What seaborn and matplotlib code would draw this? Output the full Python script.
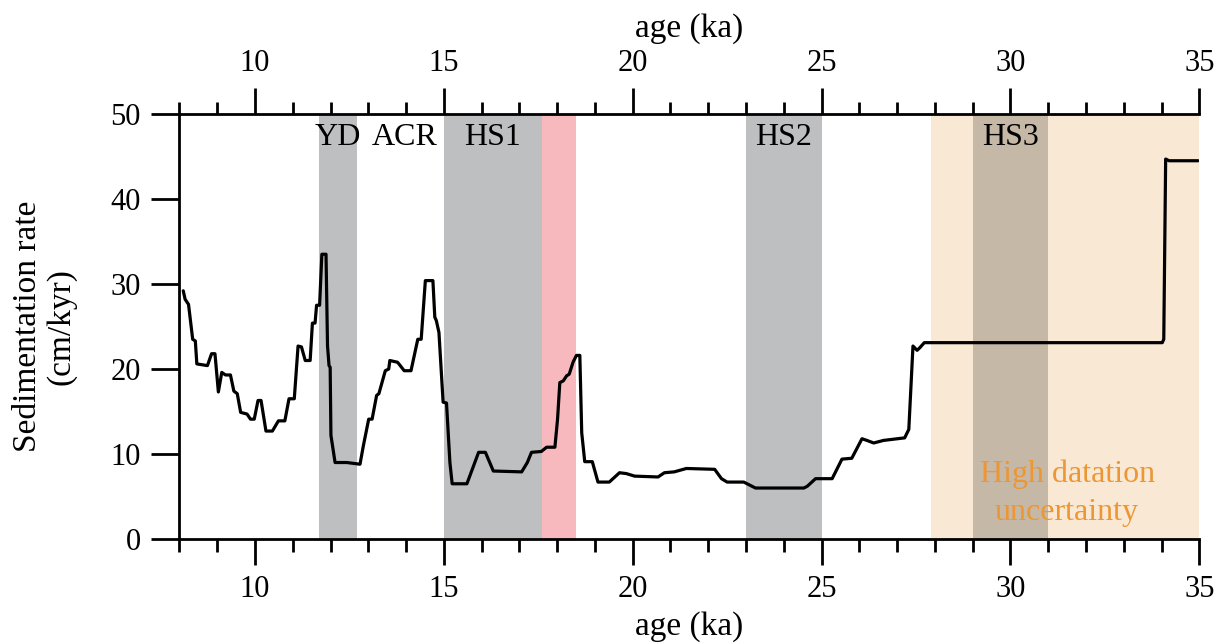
import matplotlib
matplotlib.use("Agg")
import matplotlib.pyplot as plt
import seaborn as sns
import pandas as pd

# Sedimentation-rate record (age in ka, rate in cm/kyr)
age = [8.10, 8.15, 8.24, 8.35, 8.42, 8.46, 8.74, 8.85, 8.94, 9.03, 9.12, 9.22,
       9.35, 9.44, 9.53, 9.62, 9.79, 9.88, 9.98, 10.08, 10.16, 10.29, 10.46,
       10.62, 10.79, 10.90, 11.04, 11.14, 11.23, 11.33, 11.46, 11.52, 11.59,
       11.63, 11.71, 11.77, 11.88, 11.92, 11.96, 11.99, 12.01, 12.12, 12.43,
       12.78, 12.87, 13.01, 13.10, 13.22, 13.28, 13.45, 13.54, 13.57, 13.77,
       13.81, 13.95, 14.13, 14.31, 14.40, 14.51, 14.71, 14.76, 14.80, 14.87,
       14.98, 15.07, 15.16, 15.22, 15.61, 15.92, 16.10, 16.31, 17.06, 17.21,
       17.32, 17.58, 17.72, 17.94, 18.01, 18.07, 18.16, 18.25, 18.32, 18.42,
       18.51, 18.60, 18.65, 18.73, 18.93, 19.08, 19.38, 19.65, 19.83, 20.05,
       20.67, 20.84, 21.10, 21.42, 22.17, 22.35, 22.50, 22.94, 23.25, 24.53,
       24.62, 24.84, 25.28, 25.54, 25.80, 26.07, 26.20, 26.38, 26.64, 27.20,
       27.31, 27.42, 27.53, 27.60, 27.72, 34.02, 34.06, 34.11, 34.20, 34.97]
rate = [29.2, 28.2, 27.6, 23.5, 23.3, 20.6, 20.4, 21.8, 21.8, 17.3, 19.6, 19.3,
        19.3, 17.4, 17.1, 14.9, 14.7, 14.1, 14.1, 16.3, 16.3, 12.7, 12.7,
        13.9, 13.9, 16.5, 16.5, 22.7, 22.6, 21.0, 21.0, 25.4, 25.4,
        27.5, 27.5, 33.5, 33.5, 22.7, 20.4, 20.2, 12.2, 9.0, 9.0,
        8.8, 11.0, 14.1, 14.1, 16.9, 17.1, 19.8, 20.0, 21.0, 20.8,
        20.6, 19.8, 19.8, 23.5, 23.5, 30.4, 30.4, 26.1, 25.7, 24.3,
        16.1, 16.0, 9.0, 6.5, 6.5, 10.2, 10.2, 8.0, 7.9, 9.0,
        10.2, 10.3, 10.8, 10.8, 14.1, 18.4, 18.6, 19.2, 19.4, 20.8,
        21.6, 21.6, 12.5, 9.1, 9.1, 6.7, 6.7, 7.8, 7.7, 7.4,
        7.3, 7.8, 7.9, 8.3, 8.2, 7.1, 6.7, 6.7, 6.0, 6.0,
        6.2, 7.1, 7.1, 9.4, 9.5, 11.8, 11.6, 11.3, 11.6, 11.9,
        12.9, 22.7, 22.2, 22.5, 23.1, 23.1, 23.5, 44.7, 44.5, 44.5]

# Climate events (start, end in ka)
event_names = ["YD", "HS1", "HS2", "HS3"]
event_start = [11.70, 15.0, 23.0, 29.0]
event_end = [12.70, 17.6, 25.0, 31.0]
acr_label_x = 13.95
pink_span = (17.6, 18.5)
uncertain_span = (27.9, 35.0)

x_ticks = [10, 15, 20, 25, 30, 35]
y_ticks = [0, 10, 20, 30, 40, 50]

sns.set_theme(style="white")
plt.rcParams["font.family"] = ["Liberation Serif", "DejaVu Serif"]
plt.rcParams["text.color"] = "black"
plt.rcParams["axes.labelcolor"] = "black"
plt.rcParams["xtick.color"] = "black"
plt.rcParams["ytick.color"] = "black"

fig = plt.figure(figsize=(12.25, 6.44), dpi=100)
ax = fig.add_axes([0.1465, 0.163, 0.8325, 0.66])

grey = "#BEBFC1"
ax.axvspan(*uncertain_span, color="#F9E8D4", lw=0, zorder=0)
for name, s, e in zip(event_names, event_start, event_end):
    col = "#C6B8A7" if name == "HS3" else grey
    ax.axvspan(s, e, color=col, lw=0, zorder=1)
ax.axvspan(*pink_span, color="#F8B9BE", lw=0, zorder=1)

df = pd.DataFrame({"age": age, "rate": rate})
sns.lineplot(data=df, x="age", y="rate", ax=ax, color="black", lw=2.3,
             estimator=None, sort=False, zorder=3)

label_fs = 23
label_y = 47.2
ax.text((event_start[0] + event_end[0]) / 2, label_y, "YD", ha="center",
        va="center", fontsize=label_fs)
ax.text(acr_label_x, label_y, "ACR", ha="center", va="center", fontsize=label_fs)
for name, s, e in zip(event_names[1:], event_start[1:], event_end[1:]):
    ax.text((s + e) / 2, label_y, name, ha="center", va="center",
            fontsize=label_fs)

ax.text(31.5, 5.4, "High datation\nuncertainty", ha="center", va="center",
        fontsize=23, color="#EC9634", linespacing=1.4)

ax.set_xlim(8, 35)
ax.set_ylim(0, 50)

ax.set_xticks(x_ticks)
ax.set_xticks(range(8, 36), minor=True)
ax.set_yticks(y_ticks)

for side in ["left", "bottom", "top"]:
    ax.spines[side].set_visible(True)
    ax.spines[side].set_linewidth(2.0)
    ax.spines[side].set_color("black")
ax.spines["right"].set_visible(False)

ax.tick_params(axis="x", which="major", direction="out", length=19, width=2.0,
               labelsize=22, pad=7, bottom=True, top=True, labeltop=False)
ax.tick_params(axis="x", which="minor", direction="out", length=9, width=2.0,
               bottom=True, top=True)
ax.tick_params(axis="y", which="major", direction="out", length=20, width=2.0,
               labelsize=22, pad=8, left=True, right=False)

ax.set_xlabel("age (ka)", fontsize=24, labelpad=5)
ax.set_ylabel("Sedimentation rate\n(cm/kyr)", fontsize=24, labelpad=24,
              linespacing=1.15)

top_ax = ax.secondary_xaxis("top")
top_ax.set_xticks(x_ticks)
top_ax.tick_params(axis="x", which="major", length=0, labelsize=22, pad=26)
top_ax.set_xlabel("age (ka)", fontsize=24, labelpad=9)
top_ax.spines["top"].set_visible(False)

fig.savefig("out.png", dpi=100)
